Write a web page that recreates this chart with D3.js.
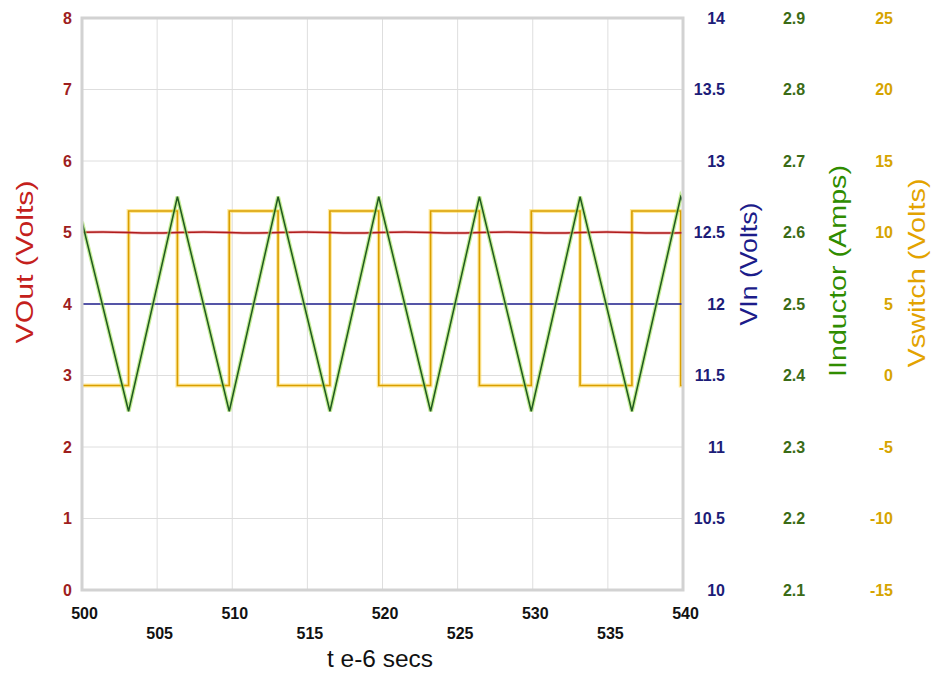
<!DOCTYPE html>
<html>
<head>
<meta charset="utf-8">
<script src="https://cdn.jsdelivr.net/npm/d3@7"></script>
<style>
  html, body { margin: 0; padding: 0; background: #ffffff; }
  svg { display: block; font-family: "Liberation Sans", Arial, Helvetica, sans-serif; }
</style>
</head>
<body>
<svg id="chart" width="931" height="675"></svg>
<script>
// ---------- data ----------
const xTicks = [500, 505, 510, 515, 520, 525, 530, 535, 540];
const vOutTicks = [0, 1, 2, 3, 4, 5, 6, 7, 8];
const vInTicks = [10, 10.5, 11, 11.5, 12, 12.5, 13, 13.5, 14];
const iIndTicks = [2.1, 2.2, 2.3, 2.4, 2.5, 2.6, 2.7, 2.8, 2.9];
const vSwTicks = [-15, -10, -5, 0, 5, 10, 15, 20, 25];

// VOut (Volts)
const vOutT = [500, 501.4, 504.7, 508.1, 511.4, 514.8, 518.1, 521.5, 524.8, 528.2, 531.5, 534.9, 538.2, 540];
const vOutV = [5.004, 5.007, 4.993, 5.007, 4.993, 5.007, 4.993, 5.007, 4.993, 5.007, 4.993, 5.007, 4.993, 4.998];

// VIn (Volts)
const vInT = [500, 540];
const vInV = [12, 12];

// IInductor (Amps)
const iIndT = [500, 503.1, 506.35, 509.8, 513.05, 516.5, 519.75, 523.2, 526.45, 529.9, 533.15, 536.6, 539.85, 540];
const iIndV = [2.615, 2.35, 2.65, 2.35, 2.65, 2.35, 2.65, 2.35, 2.65, 2.35, 2.65, 2.35, 2.65, 2.643];

// Vswitch (Volts) - value held from each time to the next
const vSwT = [500, 503.1, 506.35, 509.8, 513.05, 516.5, 519.75, 523.2, 526.45, 529.9, 533.15, 536.6, 539.85, 540];
const vSwV = [-0.7, 11.5, -0.7, 11.5, -0.7, 11.5, -0.7, 11.5, -0.7, 11.5, -0.7, 11.5, -0.7, -0.7];

// ---------- layout ----------
const svg = d3.select("#chart");
const L = 82, R = 683, T = 18, B = 590;

const x = d3.scaleLinear().domain([500, 540]).range([L, R]);
const yOut = d3.scaleLinear().domain([0, 8]).range([B, T]);
const yIn = d3.scaleLinear().domain([10, 14]).range([B, T]);
const yInd = d3.scaleLinear().domain([2.1, 2.9]).range([B, T]);
const ySw = d3.scaleLinear().domain([-15, 25]).range([B, T]);

// grid
const grid = svg.append("g");
grid.selectAll("line.v").data(xTicks.slice(1, -1)).join("line")
  .attr("x1", d => x(d)).attr("x2", d => x(d)).attr("y1", T).attr("y2", B)
  .attr("stroke", "#dedede").attr("stroke-width", 1);
grid.selectAll("line.h").data(vOutTicks.slice(1, -1)).join("line")
  .attr("x1", L).attr("x2", R).attr("y1", d => yOut(d)).attr("y2", d => yOut(d))
  .attr("stroke", "#dedede").attr("stroke-width", 1);

// clip
svg.append("clipPath").attr("id", "clip").append("rect")
  .attr("x", L).attr("y", T - 2).attr("width", R - L).attr("height", B - T + 4);
const plot = svg.append("g").attr("clip-path", "url(#clip)");

function series(ts, vs, ys, curve) {
  return d3.line().x((d, i) => x(ts[i])).y((d, i) => ys(vs[i])).curve(curve || d3.curveLinear)(ts);
}

// Vswitch
const swPath = series(vSwT, vSwV, ySw, d3.curveStepAfter);
plot.append("path").attr("d", swPath).attr("fill", "none")
  .attr("stroke", "#ffd94d").attr("stroke-width", 4).attr("opacity", 0.55);
plot.append("path").attr("d", swPath).attr("fill", "none")
  .attr("stroke", "#d99e00").attr("stroke-width", 1.6);

// VIn
plot.append("path").attr("d", series(vInT, vInV, yIn)).attr("fill", "none")
  .attr("stroke", "#22228f").attr("stroke-width", 1.4);

// VOut
plot.append("path").attr("d", series(vOutT, vOutV, yOut, d3.curveMonotoneX)).attr("fill", "none")
  .attr("stroke", "#e06060").attr("stroke-width", 3).attr("opacity", 0.45);
plot.append("path").attr("d", series(vOutT, vOutV, yOut, d3.curveMonotoneX)).attr("fill", "none")
  .attr("stroke", "#b01c1c").attr("stroke-width", 1.5);

// IInductor
const indPath = series(iIndT, iIndV, yInd);
plot.append("path").attr("d", indPath).attr("fill", "none")
  .attr("stroke", "#a6e35e").attr("stroke-width", 4).attr("opacity", 0.65);
plot.append("path").attr("d", indPath).attr("fill", "none")
  .attr("stroke", "#1f5a1f").attr("stroke-width", 1.5);

// border
svg.append("rect").attr("x", L).attr("y", T).attr("width", R - L).attr("height", B - T)
  .attr("fill", "none").attr("stroke", "#d2d2d2").attr("stroke-width", 3);

// ---------- axes ----------
function styleAxis(g, color, weight, size) {
  g.select(".domain").remove();
  g.selectAll(".tick line").remove();
  g.selectAll("text").attr("fill", color).style("font-size", size + "px")
    .style("font-weight", weight).style("font-family", "'Liberation Sans', Arial, sans-serif");
}

// x axis
const gx = svg.append("g").attr("transform", `translate(2,${B})`)
  .call(d3.axisBottom(x).tickValues(xTicks).tickSize(0).tickPadding(0).tickFormat(d3.format("d")));
styleAxis(gx, "#111111", "bold", 16);
gx.selectAll(".tick text").attr("y", (d, i) => i % 2 === 0 ? 29 : 49).attr("dy", "0");

// VOut axis (left)
const gOut = svg.append("g").attr("transform", `translate(${L},0)`)
  .call(d3.axisLeft(yOut).tickValues(vOutTicks).tickSize(0).tickPadding(10).tickFormat(d3.format("d")));
styleAxis(gOut, "#9e1e1e", "bold", 16);

// VIn axis
const gIn = svg.append("g").attr("transform", `translate(728,0)`)
  .call(d3.axisLeft(yIn).tickValues(vInTicks).tickSize(0).tickPadding(3).tickFormat(d => String(d)));
styleAxis(gIn, "#1c1c78", "bold", 16);

// IInductor axis
const gInd = svg.append("g").attr("transform", `translate(794,0)`)
  .call(d3.axisRight(yInd).tickValues(iIndTicks).tickSize(0).tickPadding(0).tickFormat(d3.format(".1f")));
styleAxis(gInd, "#3b6b16", "bold", 16);
gInd.selectAll(".tick text").attr("text-anchor", "middle");

// Vswitch axis
const gSw = svg.append("g").attr("transform", `translate(896,0)`)
  .call(d3.axisLeft(ySw).tickValues(vSwTicks).tickSize(0).tickPadding(3).tickFormat(d => String(d)));
styleAxis(gSw, "#d6a400", "bold", 16);

// ---------- titles ----------
function vTitle(text, cx, cy, len, color) {
  svg.append("text").attr("transform", `translate(${cx},${cy}) rotate(-90)`)
    .attr("text-anchor", "middle").attr("textLength", len).attr("lengthAdjust", "spacingAndGlyphs")
    .attr("fill", color).style("font-size", "24px").text(text);
}
vTitle("VOut  (Volts)", 33, 262, 163, "#c4201c");
vTitle("VIn  (Volts)", 757, 264, 123, "#1c1c8a");
vTitle("IInductor  (Amps)", 846, 271, 212, "#2f8c00");
vTitle("Vswitch  (Volts)", 925, 273, 189, "#e3a300");

svg.append("text").attr("x", 380).attr("y", 667).attr("text-anchor", "middle")
  .attr("textLength", 106).attr("lengthAdjust", "spacingAndGlyphs")
  .attr("fill", "#111111").style("font-size", "24px").text("t e-6 secs");
</script>
</body>
</html>
